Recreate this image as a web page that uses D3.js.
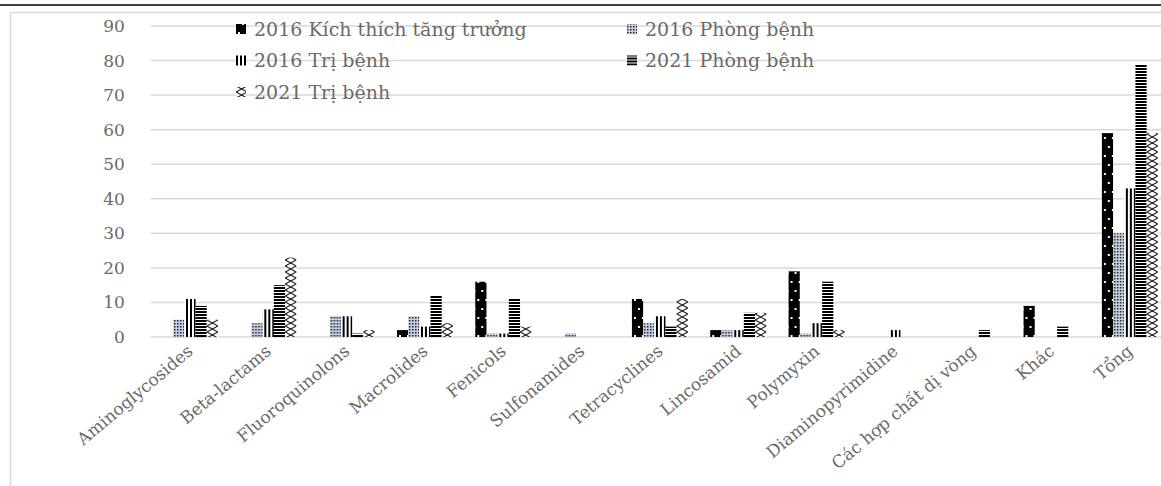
<!DOCTYPE html>
<html>
<head>
<meta charset="utf-8">
<script src="https://cdn.jsdelivr.net/npm/d3@7"></script>
<style>
  html, body { margin: 0; padding: 0; background: #fff; }
  svg text { font-family: "DejaVu Serif", "Liberation Serif", serif; fill: #6a6a6a; }
</style>
</head>
<body>
<svg id="chart" width="1161" height="486"></svg>
<script>
// categories and series values
const categories = [
  'Aminoglycosides', 'Beta-lactams', 'Fluoroquinolons', 'Macrolides', 'Fenicols',
  'Sulfonamides', 'Tetracyclines', 'Lincosamid', 'Polymyxin', 'Diaminopyrimidine',
  'Các hợp chất dị vòng', 'Khác', 'Tổng'
];
const seriesNames = [
  '2016 Kích thích tăng trưởng', '2016 Phòng bệnh', '2016 Trị bệnh',
  '2021 Phòng bệnh', '2021 Trị bệnh'
];
const kichThich2016 = [0, 0, 0, 2, 16, 0, 11, 2, 19, 0, 0, 9, 59];
const phongBenh2016 = [5, 4, 6, 6, 1, 1, 4, 2, 1, 0, 0, 0, 30];
const triBenh2016   = [11, 8, 6, 3, 1, 0, 6, 2, 4, 2, 0, 0, 43];
const phongBenh2021 = [9, 15, 1, 12, 11, 0, 3, 7, 16, 0, 2, 3, 79];
const triBenh2021   = [5, 23, 2, 4, 3, 0, 11, 7, 2, 0, 0, 0, 59];
const yTicks = [0, 10, 20, 30, 40, 50, 60, 70, 80, 90];

const seriesValues = [kichThich2016, phongBenh2016, triBenh2016, phongBenh2021, triBenh2021];
const patternIds = ['p-kt', 'p-pb16', 'p-tb16', 'p-pb21', 'p-tb21'];

const svg = d3.select('#chart');
const margin = { left: 150.8, right: -8, top: 26, bottom: 149 };
const width = 1161 - margin.left - margin.right;
const height = 486 - margin.top - margin.bottom;

// Patterns (Excel-style fills)
const defs = svg.append('defs');

const pKt = defs.append('pattern').attr('id', 'p-kt')
  .attr('patternUnits', 'userSpaceOnUse').attr('width', 8).attr('height', 18);
pKt.append('rect').attr('width', 8).attr('height', 18).attr('fill', '#000');
pKt.append('rect').attr('x', 2).attr('y', 3).attr('width', 2).attr('height', 2).attr('fill', '#fff');
pKt.append('rect').attr('x', 6).attr('y', 12).attr('width', 2).attr('height', 2).attr('fill', '#fff');

const pPb16 = defs.append('pattern').attr('id', 'p-pb16')
  .attr('patternUnits', 'userSpaceOnUse').attr('width', 3).attr('height', 3);
pPb16.append('rect').attr('width', 3).attr('height', 3).attr('fill', '#c4cfe4');
pPb16.append('rect').attr('width', 1.5).attr('height', 1.5).attr('fill', '#222');

const pTb16 = defs.append('pattern').attr('id', 'p-tb16')
  .attr('patternUnits', 'userSpaceOnUse').attr('width', 4).attr('height', 4);
pTb16.append('rect').attr('width', 4).attr('height', 4).attr('fill', '#fff');
pTb16.append('rect').attr('width', 2).attr('height', 4).attr('fill', '#000');

const pPb21 = defs.append('pattern').attr('id', 'p-pb21')
  .attr('patternUnits', 'userSpaceOnUse').attr('width', 4).attr('height', 3);
pPb21.append('rect').attr('width', 4).attr('height', 3).attr('fill', '#fff');
pPb21.append('rect').attr('width', 4).attr('height', 2).attr('fill', '#000');

const pTb21 = defs.append('pattern').attr('id', 'p-tb21')
  .attr('patternUnits', 'userSpaceOnUse').attr('width', 11.2).attr('height', 12);
pTb21.append('rect').attr('width', 11.2).attr('height', 12).attr('fill', '#fff');
pTb21.append('path')
  .attr('d', 'M0,0 L11.2,6 L0,12 M11.2,0 L0,6 L11.2,12')
  .attr('fill', 'none').attr('stroke', '#000').attr('stroke-width', 1);

// Outer frames
svg.append('line').attr('x1', 0).attr('x2', 1161).attr('y1', 5).attr('y2', 5)
  .attr('stroke', '#000').attr('stroke-width', 1.5);
svg.append('rect').attr('x', 10.5).attr('y', 12.5).attr('width', 1200).attr('height', 500)
  .attr('fill', 'none').attr('stroke', '#d9d9d9').attr('stroke-width', 1.5);

const g = svg.append('g').attr('transform', `translate(${margin.left},${margin.top})`);

// Scales
const x0 = d3.scaleBand().domain(categories).range([0, width])
  .paddingInner(2 / 7).paddingOuter(1 / 7);
const x1 = d3.scaleBand().domain(d3.range(seriesNames.length)).range([0, x0.bandwidth()]);
const y = d3.scaleLinear().domain([0, 90]).range([height, 0]);

// Grid lines
g.append('g').attr('class', 'grid')
  .selectAll('line').data(yTicks).join('line')
  .attr('x1', 0).attr('x2', width)
  .attr('y1', d => y(d)).attr('y2', d => y(d))
  .attr('stroke', '#d9d9d9').attr('stroke-width', 1.5);

// Y axis labels
const yAxis = g.append('g').attr('class', 'axis')
  .call(d3.axisLeft(y).tickValues(yTicks).tickSize(0).tickPadding(26));
yAxis.select('.domain').remove();
yAxis.selectAll('text').style('font-size', '17px').attr('fill', '#6a6a6a');

// Bars
const groups = g.append('g').selectAll('g.cat')
  .data(categories).join('g')
  .attr('class', 'cat')
  .attr('transform', d => `translate(${x0(d)},0)`);

groups.selectAll('rect')
  .data((d, ci) => seriesValues.map((vals, si) => ({ si, value: vals[ci] })))
  .join('rect')
  .filter(d => d.value > 0)
  .attr('x', d => x1(d.si))
  .attr('y', d => y(d.value))
  .attr('width', x1.bandwidth())
  .attr('height', d => height - y(d.value))
  .attr('fill', d => `url(#${patternIds[d.si]})`);

// X axis labels
const xAxis = g.append('g').attr('class', 'axis')
  .attr('transform', `translate(0,${height})`)
  .call(d3.axisBottom(x0).tickSize(0).tickPadding(0));
xAxis.select('.domain').remove();
xAxis.selectAll('text')
  .style('font-size', '17px')
  .attr('fill', '#6a6a6a')
  .attr('text-anchor', 'end')
  .attr('dy', 0)
  .attr('transform', 'translate(4,16) rotate(-40)');

// Legend
const legendItems = [
  { si: 0, x: 236, y: 29 },
  { si: 1, x: 627, y: 29 },
  { si: 2, x: 236, y: 60.5 },
  { si: 3, x: 627, y: 60.5 },
  { si: 4, x: 236, y: 92 }
];
const legend = svg.append('g').attr('class', 'legend');
const li = legend.selectAll('g').data(legendItems).join('g')
  .attr('transform', d => `translate(${d.x},${d.y})`);
li.append('rect')
  .attr('x', 0).attr('y', -5).attr('width', 10).attr('height', 10)
  .attr('fill', d => `url(#${patternIds[d.si]})`);
li.append('text')
  .attr('x', 18).attr('y', 0).attr('dy', '0.35em')
  .style('font-size', '19px')
  .text(d => seriesNames[d.si]);
</script>
</body>
</html>
